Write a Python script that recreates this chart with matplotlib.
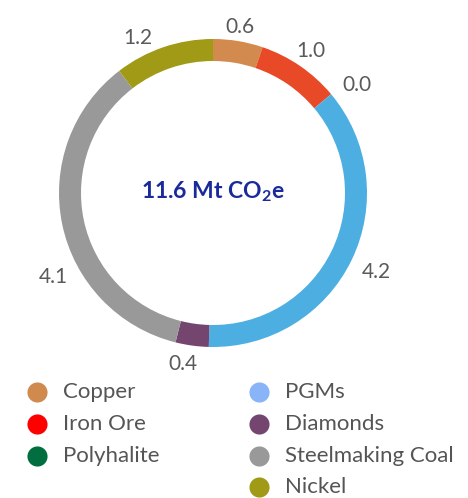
import numpy as np
import matplotlib
matplotlib.use("Agg")
import matplotlib.pyplot as plt

plt.rcParams['font.family'] = ['Lato', 'DejaVu Sans']
plt.rcParams['mathtext.default'] = 'regular'

categories = ["Copper", "Iron Ore", "Polyhalite", "PGMs", "Diamonds", "Steelmaking Coal", "Nickel"]
values = [0.6, 1.0, 0.0, 4.2, 0.4, 4.1, 1.2]
ring_colors = ["#D38A4E", "#E84A27", "#2E7D4F", "#4DAEE2", "#74466F", "#999999", "#A09A16"]
legend_colors = ["#D08A4E", "#FF0000", "#006E3F", "#8AB4F8", "#74466F", "#999999", "#A09A16"]
total_label = "11.6 Mt CO$_2$e"

W, H = 468, 498
fig = plt.figure(figsize=(W / 100, H / 100), dpi=100)

# donut axes: centre and radius in pixels
cx, cy, R = 213, 193, 154
L = 1.4
side = 2 * L * R
ax = fig.add_axes([(cx - side / 2) / W, (H - cy - side / 2) / H, side / W, side / H])

width = 22 / R
ax.pie(values, colors=ring_colors, startangle=90, counterclock=False,
       radius=1.0, wedgeprops=dict(width=width, linewidth=0),
       normalize=True)
ax.set_xlim(-L, L)
ax.set_ylim(-L, L)
ax.set_aspect('equal')
ax.axis('off')

# value labels around the ring
tot = sum(values)
cum = np.cumsum([0] + values[:-1])
nudge = {"Steelmaking Coal": -16, "Nickel": -7, "Polyhalite": 3, "Diamonds": 2}
rdist = {"Copper": 1.09, "Iron Ore": 1.12, "Polyhalite": 1.17, "PGMs": 1.18,
         "Diamonds": 1.13, "Steelmaking Coal": 1.17, "Nickel": 1.12}
for name, v, c0 in zip(categories, values, cum):
    ang = (c0 + v / 2) / tot * 360 + nudge.get(name, 0)
    th = np.deg2rad(90 - ang)
    r = rdist[name]
    ax.text(r * np.cos(th), r * np.sin(th), f"{v:.1f}", ha='center', va='center',
            fontsize=15, color="#5A5A5A")

ax.text(0, 0.01, total_label, ha='center', va='center', fontsize=16.5,
        color="#1B2A9B", fontweight='bold')

# legend in two columns (3 + 4 entries)
cols = [categories[:3], categories[3:]]
col_x = [37, 259]
text_dx = 26
row_y0, row_dy = 392, 31.8
lax = fig.add_axes([0, 0, 1, 1])
lax.set_xlim(0, W)
lax.set_ylim(H, 0)
lax.axis('off')
idx = 0
for ci, col in enumerate(cols):
    for ri, name in enumerate(col):
        y = row_y0 + ri * row_dy
        lax.scatter([col_x[ci]], [y], s=210, color=legend_colors[idx], linewidths=0)
        lax.text(col_x[ci] + text_dx, y, name, ha='left', va='center',
                 fontsize=16, color="#555555")
        idx += 1

fig.savefig("out.png", dpi=100)
